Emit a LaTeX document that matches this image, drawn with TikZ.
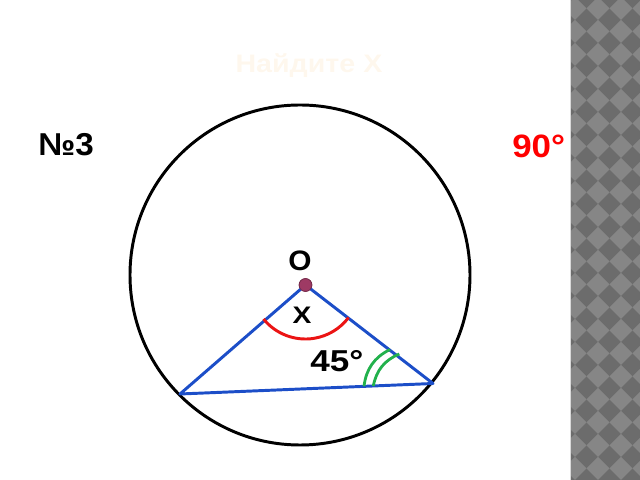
\documentclass[tikz,border=0pt]{standalone}
\usepackage{fontspec}
\setmainfont{Liberation Sans}
\usetikzlibrary{positioning}

\definecolor{segblue}{RGB}{28,78,200}
\definecolor{markgreen}{RGB}{34,177,76}
\definecolor{markred}{RGB}{235,20,20}
\definecolor{dotpurple}{RGB}{158,58,100}
\definecolor{titlecream}{RGB}{254,247,237}
\definecolor{stripdark}{RGB}{108,108,108}
\definecolor{striplight}{RGB}{134,134,134}

\begin{document}
\begin{tikzpicture}[x=0.025cm, y=0.025cm,
      lbl/.style={inner sep=0pt, font=\bfseries\fontsize{22.5}{26}\selectfont},
      side/.style={draw=segblue, line width=2.1pt, line cap=round, line join=round},
      anglemark/.style={draw=markgreen, line width=2pt},
      vertex/.style={circle, fill=dotpurple, draw=dotpurple!75!black, line width=0.5pt, inner sep=0pt, minimum size=0.32cm}]

      \useasboundingbox (0,0) rectangle (640,480);

      % Side strip
      \fill[stripdark] (570,0) rectangle (640,480);
      \begin{scope}
        \clip (570,0) rectangle (640,480);
        \foreach \i in {0,...,3} {
          \foreach \j in {0,...,21} {
            \fill[striplight] (575+23*\i-11.5,11.5+23*\j) -- ++(11.5,11.5) -- ++(11.5,-11.5) -- ++(-11.5,-11.5) -- cycle;
          }
        }
      \end{scope}
      \draw[white!85!black, line width=0.6pt] (570,0) -- (570,480);

      % Title and labels
      \node[lbl, text=titlecream, font=\bfseries\fontsize{18}{21}\selectfont, xscale=1.13] (title) at (309,414) {Найдите Х};
      \node[lbl, anchor=west, xscale=1.05] (num) at (38,335) {№3};
      \node[lbl, text=red, anchor=west, font=\bfseries\fontsize{23}{27}\selectfont, xscale=1.08] (answer) at (512,334) {90°};

      % Circle
      \draw[line width=2.1pt] (300,205) circle[radius=170];

      % Triangle
      \node[vertex] (O) at (305.5,195) {};
      \coordinate (A) at (180,86);
      \coordinate (B) at (433,96.5);
      \draw[side] (O.center) -- (A) -- (B) -- cycle;
      \node[vertex] at (305.5,195) {};

      % Angle marks
      \draw[draw=markred, line width=2.1pt] (263.5,161) arc[start angle=219, end angle=323, radius=54];
      \draw[anglemark] (390,130.5) to[bend right=28] (364,93.8);
      \draw[anglemark] (399.3,126) to[bend right=28] (373.3,94);

      % Labels at the vertices
      \node[lbl, font=\bfseries\fontsize{20}{24}\selectfont, xscale=1.06] (Olabel) at (300,219.5) {O};
      \node[lbl, font=\bfseries\fontsize{17}{20}\selectfont, xscale=1.18] (xlabel) at (302,165) {X};
      \node[lbl, font=\bfseries\fontsize{21.5}{25}\selectfont, xscale=1.16] (angle) at (337,119) {45°};
    \end{tikzpicture}
\end{document}
